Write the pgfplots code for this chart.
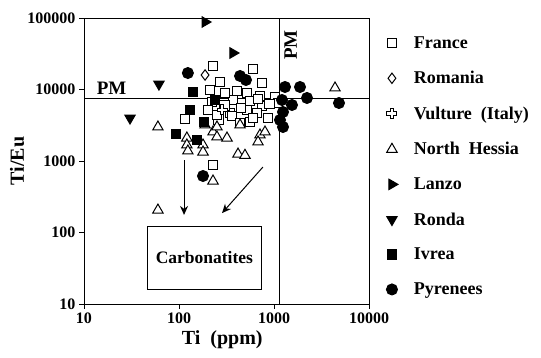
\documentclass[border=0pt]{standalone}
\usepackage{fontspec}
\setmainfont{Liberation Serif}
\usepackage{pgfplots}
\pgfplotsset{compat=1.18}
\usetikzlibrary{arrows.meta}
\pgfdeclareplotmark{plusoutline}{%
  \pgfpathmoveto{\pgfqpoint{-0.38\pgfplotmarksize}{\pgfplotmarksize}}%
  \pgfpathlineto{\pgfqpoint{0.38\pgfplotmarksize}{\pgfplotmarksize}}%
  \pgfpathlineto{\pgfqpoint{0.38\pgfplotmarksize}{0.38\pgfplotmarksize}}%
  \pgfpathlineto{\pgfqpoint{\pgfplotmarksize}{0.38\pgfplotmarksize}}%
  \pgfpathlineto{\pgfqpoint{\pgfplotmarksize}{-0.38\pgfplotmarksize}}%
  \pgfpathlineto{\pgfqpoint{0.38\pgfplotmarksize}{-0.38\pgfplotmarksize}}%
  \pgfpathlineto{\pgfqpoint{0.38\pgfplotmarksize}{-\pgfplotmarksize}}%
  \pgfpathlineto{\pgfqpoint{-0.38\pgfplotmarksize}{-\pgfplotmarksize}}%
  \pgfpathlineto{\pgfqpoint{-0.38\pgfplotmarksize}{-0.38\pgfplotmarksize}}%
  \pgfpathlineto{\pgfqpoint{-\pgfplotmarksize}{-0.38\pgfplotmarksize}}%
  \pgfpathlineto{\pgfqpoint{-\pgfplotmarksize}{0.38\pgfplotmarksize}}%
  \pgfpathlineto{\pgfqpoint{-0.38\pgfplotmarksize}{0.38\pgfplotmarksize}}%
  \pgfpathclose
  \pgfusepathqfillstroke}
\begin{document}
\begin{tikzpicture}
\begin{axis}[name=ax,
  xmode=log, ymode=log, scale only axis,
  width=285pt, height=286pt,
  xmin=10, xmax=10000, ymin=10, ymax=100000,
  xtick={10,100,1000,10000}, xticklabels={10,100,1000,10000},
  ytick={10,100,1000,10000,100000}, yticklabels={10,100,1000,10000,100000},
  xminorticks=false, yminorticks=false,
  tick align=outside, xtick pos=bottom, ytick pos=left,
  major tick length=5pt,
  tick style={black, line width=0.8pt},
  axis line style={line width=0.9pt},
  ticklabel style={font=\fontsize{16}{18}\selectfont\bfseries},
  xlabel={Ti\ \ (ppm)}, ylabel={Ti/Eu},
  label style={font=\fontsize{20}{22}\selectfont\bfseries},
  xlabel style={at={(axis description cs:0.485,-0.125)}, anchor=center},
  ylabel style={at={(axis description cs:-0.235,0.5)}, anchor=center},
  legend style={draw=none, fill=none, at={(axis description cs:1.05,0.95)}, anchor=north west,
    font=\fontsize{18}{19}\selectfont\bfseries, row sep=17.5pt,
    /tikz/every odd column/.append style={column sep=14pt}},
  legend cell align=left,
  every axis plot/.append style={only marks, line width=1pt},
]
% France
\addplot[mark=square*, mark size=4.8pt, draw=black, fill=white] coordinates {
(228,21300) (601,19350) (270,12730) (748,12330) (212,9840) (408,9530) (520,8930)
(712,8110) (1025,7850) (223,6680) (370,7130) (559,6900) (748,5880) (1102,6470)
(202,5170) (344,4690) (520,5170) (662,4690) (116,3870) (361,4260) (559,3510)
(439,3400) (228,879) (305,8930) (865,3990) (600,4000) (450,5500) (260,3800)
(300,6000) (680,7400) (250,4400) (900,6300)
};
\addlegendentry{France}
% Romania
\addplot[mark=diamond*, mark size=5.2pt, draw=black, fill=white] coordinates {(188,15950)};
\addlegendentry{Romania}
% Vulture
\addplot[mark=plusoutline, mark size=5pt, draw=black, fill=white] coordinates {(284,5170)};
\addlegendentry{Vulture\ \ (Italy)}
% North Hessia
\addplot[mark=triangle*, mark size=6pt, draw=black, fill=white] coordinates {
(60,2990) (121,2097) (121,1675) (124,1380) (179,1675) (188,3190) (228,2546)
(251,2166) (320,2097) (251,2990) (439,3190) (712,2310) (804,2546) (418,1250)
(495,1200) (679,1845) (4390,10500) (228,525) (60,206) (179,1336)
};
\addlegendentry{North\ \ Hessia}
% Lanzo
\addplot[mark=triangle*, mark size=6pt, draw=black, fill=black, mark options={rotate=-90}] coordinates {(188,87900) (370,32400)};
\addlegendentry{Lanzo}
% Ronda
\addplot[mark=triangle*, mark size=6pt, draw=black, fill=black, mark options={rotate=180}] coordinates {(61.5,11900) (30.5,3990)};
\addlegendentry{Ronda}
% Ivrea
\addplot[mark=square*, mark size=4.8pt, draw=black, fill=black] coordinates {
(93,2387) (140,9230) (131,5170) (183,3510) (239,7130) (155,1967)
};
\addlegendentry{Ivrea}
% Pyrenees
\addplot[mark=*, mark size=5.5pt, draw=black, fill=black] coordinates {
(124,17000) (179,617) (439,15450) (507,13580) (1306,10840) (1878,10840) (2225,7610)
(1214,7130) (1546,6070) (1244,4845) (1156,3745) (1244,2990) (4831,6470)
};
\addlegendentry{Pyrenees}
% PM reference lines
\addplot[forget plot, sharp plot, no marks, line width=0.9pt] coordinates {(10,7600) (10000,7600)};
\addplot[forget plot, sharp plot, no marks, line width=0.9pt] coordinates {(1140,10) (1140,100000)};
\node[font=\fontsize{19}{21}\selectfont\bfseries, anchor=south] at (axis cs:19.5,7600) {PM};
\node[font=\fontsize{19}{21}\selectfont\bfseries, rotate=90] at (axis cs:1500,42000) {PM};
% Arrows
\draw[-{Stealth[length=9pt,width=8pt]}, line width=1pt] (axis cs:113,1020) -- (axis cs:113,176);
\draw[-{Stealth[length=9pt,width=8pt]}, line width=1pt] (axis cs:765,824) -- (axis cs:284,187);
% Carbonatites box
\draw[line width=0.9pt, fill=white] (axis cs:47,16.2) rectangle (axis cs:730,123);
\node[font=\fontsize{17.5}{19}\selectfont\bfseries] at (axis cs:185,44.6) {Carbonatites};
\end{axis}
\pgfresetboundingbox
\path[use as bounding box] ([xshift=-84pt,yshift=-54pt]ax.south west) rectangle ([xshift=172pt,yshift=18pt]ax.north east);
\end{tikzpicture}
\end{document}
